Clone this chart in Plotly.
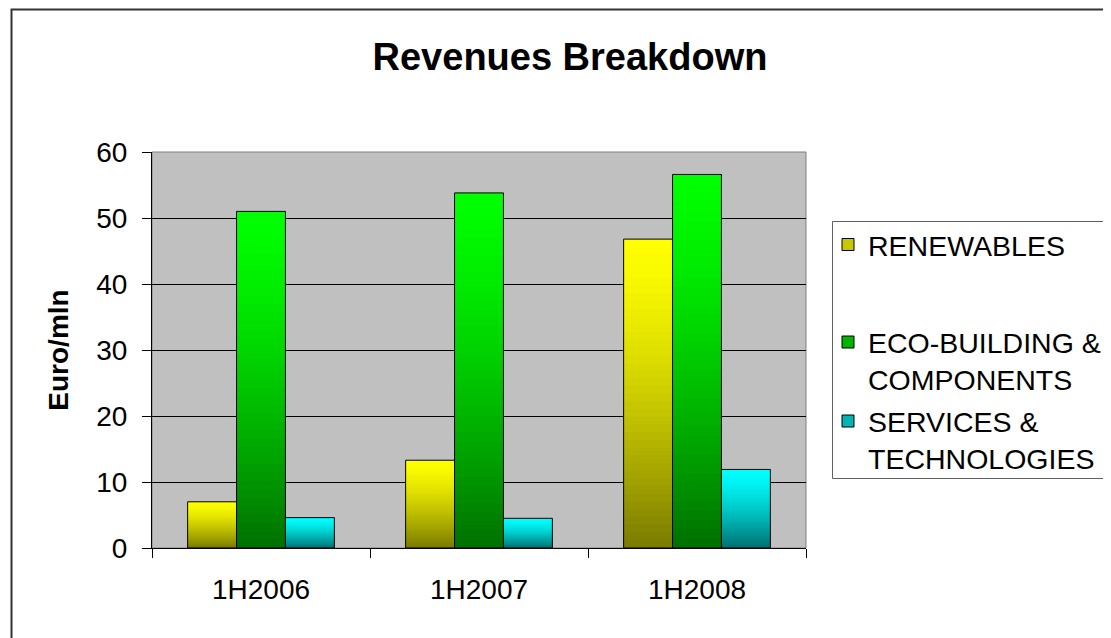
import plotly.graph_objects as go

categories = ["1H2006", "1H2007", "1H2008"]
renewables = [7.0, 13.3, 46.8]
eco_building = [51.0, 53.8, 56.6]
services = [4.6, 4.5, 11.9]

series_names = ["RENEWABLES", "ECO-BUILDING &<br>COMPONENTS", "SERVICES &<br>TECHNOLOGIES"]
series_values = [renewables, eco_building, services]
top_colors = [(255, 255, 0), (0, 255, 0), (0, 255, 255)]
bottom_colors = [(122, 122, 0), (0, 112, 0), (0, 112, 112)]
legend_colors = ["#C8C800", "#00B400", "#00B4B4"]
legend_ids = ["legend", "legend2", "legend3"]
legend_centers = [245, 361, 440]  # screen px, vertical centre of each legend entry

FONT = "Liberation Sans, Arial, sans-serif"
OFF = 8  # page body margin
W, H = 1111 - OFF, 638 - OFF
L, R, T, B = 152 - OFF, 806 - OFF, 152 - OFF, 548 - OFF  # plot area in figure px
N = 40


def shade(top, bottom, p):
    f = (1 - p) ** 1.4
    return "rgb(%d,%d,%d)" % tuple(round(t - (t - b) * f) for t, b in zip(top, bottom))


fig = go.Figure()
for s, (name, vals) in enumerate(zip(series_names, series_values)):
    og = "g%d" % s
    for k in range(N, 0, -1):
        fig.add_trace(go.Bar(
            x=categories, y=[v * k / N for v in vals], offsetgroup=og,
            marker=dict(color=shade(top_colors[s], bottom_colors[s], (k - 0.5) / N), line=dict(width=0)),
            showlegend=False, hoverinfo="skip"))
    fig.add_trace(go.Bar(
        x=categories, y=vals, offsetgroup=og, name=name.replace("<br>", " "),
        marker=dict(color="rgba(0,0,0,0)", line=dict(color="black", width=1)),
        showlegend=False))
    fig.add_trace(go.Bar(
        x=categories, y=[None] * len(categories), offsetgroup=og, name=name,
        legend=legend_ids[s],
        marker=dict(color=legend_colors[s], line=dict(color="black", width=1)),
        showlegend=True, hoverinfo="skip"))

pw, ph = R - L, B - T


def px_x(sx):  # screen px -> paper x
    return (sx - OFF - L) / pw


def px_y(sy):  # screen px -> paper y
    return (B - (sy - OFF)) / ph


legend_font = dict(family=FONT, size=28.5, color="black")
legends = {}
for lid, cy in zip(legend_ids, legend_centers):
    legends[lid] = dict(x=px_x(828), xanchor="left", y=px_y(cy), yanchor="middle",
                        borderwidth=0, bgcolor="rgba(0,0,0,0)", font=legend_font,
                        valign="top")

fig.update_layout(
    width=W, height=H,
    margin=dict(l=L, r=W - R, t=T, b=H - B, autoexpand=False),
    paper_bgcolor="white", plot_bgcolor="#C0C0C0",
    barmode="group", bargap=0.327, bargroupgap=0,
    font=dict(family=FONT, size=28, color="black"),
    title=dict(text="<b>Revenues Breakdown</b>", font=dict(family=FONT, size=38, color="black"),
               xref="container", x=(570 - OFF) / W, xanchor="center",
               yref="container", y=1 - (57 - OFF) / H, yanchor="middle"),
    xaxis=dict(type="category", tickson="boundaries", ticks="outside", ticklen=9,
               tickcolor="black", showline=True, linecolor="black", linewidth=1,
               showgrid=False, ticklabelstandoff=16, fixedrange=True),
    yaxis=dict(range=[0, 60], dtick=10, ticks="outside", ticklen=9, tickcolor="black",
               showline=True, linecolor="black", linewidth=1, showgrid=True,
               gridcolor="black", gridwidth=1, zeroline=False, ticklabelstandoff=9,
               title=dict(text="<b>Euro/mln</b>", font=dict(family=FONT, size=28), standoff=19),
               fixedrange=True),
    shapes=[
        dict(type="rect", xref="x domain", yref="y domain", x0=0, x1=1, y0=0, y1=1,
             line=dict(color="#808080", width=1), layer="below"),
        dict(type="rect", xref="paper", yref="paper", x0=px_x(11.5), x1=px_x(1125),
             y0=px_y(650), y1=px_y(9.5), line=dict(color="#333333", width=2), layer="below"),
        dict(type="rect", xref="paper", yref="paper", x0=px_x(832.5), x1=px_x(1110.5),
             y0=px_y(478.5), y1=px_y(221.5), line=dict(color="#606060", width=1), layer="above"),
    ],
    **legends,
)

fig.write_html("out.html")
